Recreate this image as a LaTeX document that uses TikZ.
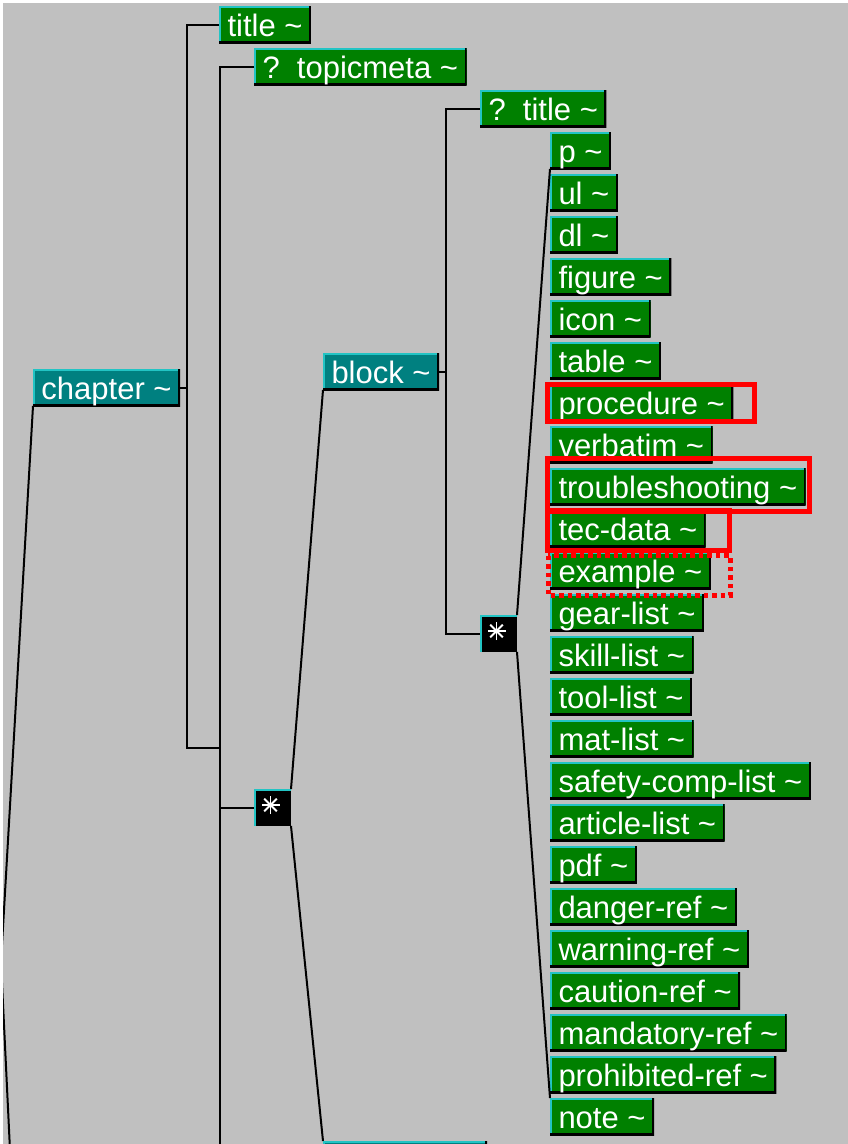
\documentclass[tikz,border=0pt]{standalone}
\usepackage{fontspec}
\setmainfont{Liberation Sans}
\definecolor{sgrau}{HTML}{C0C0C0}
\definecolor{sgruen}{HTML}{008000}
\definecolor{steal}{HTML}{008080}
\definecolor{scyan}{HTML}{22C4C4}
\definecolor{srot}{HTML}{FF0000}

\tikzset{
  elem/.style={anchor=north west, fill=sgruen, text=white, inner xsep=8.5pt, inner ysep=0pt, outer sep=0pt,
    text height=30pt, text depth=7pt, font=\fontsize{31}{37}\selectfont,
    path picture={
      \draw[scyan, line width=4pt] (path picture bounding box.south west) -- (path picture bounding box.north west) -- (path picture bounding box.north east);
      \draw[black, line width=4pt] (path picture bounding box.north east) -- (path picture bounding box.south east) -- (path picture bounding box.south west);}},
  group/.style={elem, fill=steal},
  anyof/.style={anchor=north west, fill=black, inner sep=0pt, outer sep=0pt, minimum width=37pt, minimum height=37pt,
    path picture={
      \draw[scyan, line width=4pt] (path picture bounding box.south west) -- (path picture bounding box.north west) -- (path picture bounding box.north east);
      \foreach \a in {0,45,90,135}
        \draw[white, line width=1.8pt] (path picture bounding box.center) ++(-2,-2.5) ++(\a:9) -- ++(\a+180:18);}},
  redbox/.style={draw=srot, line width=5pt}
}

\begin{document}
\begin{tikzpicture}[x=1pt, y=-1pt, line width=2pt]
  \path[use as bounding box, fill=white] (0,0) rectangle (848,1144);
  \fill[sgrau] (3,3) rectangle (848,1144);
  \begin{scope}
    \clip (3,3) rectangle (848,1144);
    % first level
    \node[group] (chapter) at (33,369) {chapter \textasciitilde};
    \node[elem] (title1) at (219,6) {title \textasciitilde};
    \node[elem] (topicmeta) at (254,48) {?\ \ topicmeta \textasciitilde};
    \node[anyof] (star1) at (254,789) {};
    \node[group] (block) at (323,353) {block \textasciitilde};
    \node[group, minimum width=164pt] (rest) at (323,1141) {};
    % inside block
    \node[elem] (title2) at (480,90) {?\ \ title \textasciitilde};
    \node[anyof] (star2) at (480,615) {};
    \foreach \t [count=\i from 0] in {p,ul,dl,figure,icon,table,procedure,verbatim,troubleshooting,tec-data,example,gear-list,skill-list,tool-list,mat-list,safety-comp-list,article-list,pdf,danger-ref,warning-ref,caution-ref,mandatory-ref,prohibited-ref,note}
      \node[elem] (c\i) at (550,132+42*\i) {\t\ \textasciitilde};

    % connectors
    \coordinate (j1) at (187,387.5);
    \coordinate (j2) at (220,748);
    \coordinate (t2) at (220,1150);
    \coordinate (j3) at (446,371.5);
    \coordinate (off) at (1,962);
    \coordinate (below) at (10,1150);
    \draw (chapter.east) -- (j1);
    \draw (title1.west) -| (j1) |- (j2);
    \draw (topicmeta.west) -| (t2);
    \draw (star1.west) -- (star1.west -| t2);
    \draw (star1.north east) -- (block.south west);
    \draw (star1.south east) -- (rest.north west);
    \draw (block.east) -- (j3);
    \draw (title2.west) -| (j3) |- (star2.west);
    \draw (star2.north east) -- (c0.south west);
    \draw (star2.south east) -- (c23.north west);
    \draw (chapter.south west) -- (off) -- (below);

    % marks
    \draw[redbox] (547.5,384.5) rectangle (754.5,421.5);
    \draw[redbox] (547.5,458.5) rectangle (809,511.5);
    \draw[redbox] (547.5,510) rectangle (729.5,550.5);
    \draw[redbox, dash pattern=on 4.5pt off 4pt] (548,555.5) rectangle (730,595.5);
  \end{scope}
\end{tikzpicture}
\end{document}
